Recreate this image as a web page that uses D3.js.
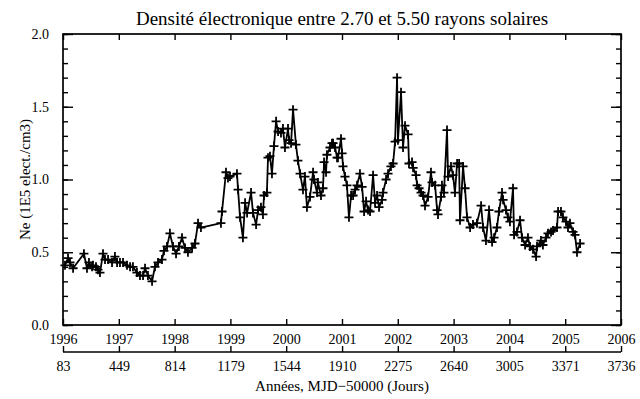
<!DOCTYPE html>
<html>
<head>
<meta charset="utf-8">
<script src="https://cdn.jsdelivr.net/npm/d3@7"></script>
<style>
  html, body { margin: 0; padding: 0; background: #fff; }
  svg { display: block; }
  text { font-family: "Liberation Serif", "Times New Roman", serif; fill: #000; }
</style>
</head>
<body>
<svg id="chart" width="640" height="399"></svg>
<script>
// Electron density (1E5 elect./cm3) vs. day number (MJD - 50000)
const days = [
  96,116,129,149,220,240,253,273,279,299,312,325,345,358,378,404,423,437,456,476,
  502,522,541,567,587,607,620,639,666,685,705,731,744,764,783,803,823,842,862,882,
  901,928,947,967,986,1117,1124,1150,1163,1176,1222,1229,1242,1261,1275,1288,1314,1327,1347,1360,
  1379,1392,1399,1418,1425,1438,1451,1464,1478,1491,1510,1523,1536,1556,1563,1576,1589,1608,1621,1635,
  1654,1667,1680,1700,1720,1726,1746,1752,1772,1785,1792,1805,1811,1831,1844,1851,1864,1877,1883,1903,
  1910,1916,1929,1942,1955,1969,1982,1995,2008,2027,2041,2054,2067,2080,2093,2113,2126,2139,2152,2172,
  2178,2198,2211,2230,2244,2257,2270,2276,2296,2309,2322,2342,2348,2368,2375,2394,2401,2414,2427,2440,
  2453,2473,2492,2499,2519,2532,2538,2558,2564,2577,2597,2604,2623,2636,2649,2663,2676,2682,2702,2715,
  2728,2748,2767,2793,2820,2833,2852,2872,2892,2905,2924,2937,2957,2964,2983,2996,3009,3029,3036,3055,
  3075,3088,3108,3127,3140,3160,3180,3186,3212,3225,3245,3258,3278,3291,3317,3324,3343,3356,3376,3389,
  3402,3422,3435,3448,3468
];
const ne = [
  0.41,0.46,0.43,0.39,0.49,0.39,0.43,0.40,0.41,0.40,0.38,0.36,0.49,0.45,0.45,0.43,0.47,0.43,0.43,0.43,
  0.41,0.40,0.40,0.36,0.34,0.34,0.39,0.34,0.30,0.40,0.43,0.45,0.51,0.54,0.63,0.54,0.49,0.54,0.60,0.53,
  0.50,0.53,0.56,0.70,0.67,0.70,0.78,1.05,1.01,1.02,1.04,0.93,0.74,0.60,0.84,0.77,0.91,0.77,0.69,0.79,
  0.81,0.76,0.89,0.91,1.15,1.16,1.04,1.23,1.40,1.33,1.32,1.35,1.22,1.35,1.27,1.25,1.48,1.24,1.13,1.04,
  0.93,1.02,0.81,0.88,1.05,1.00,0.91,0.98,0.89,0.94,1.12,1.05,1.17,1.22,1.25,1.25,1.22,1.15,1.15,1.28,
  1.18,1.09,1.02,0.96,0.74,0.89,0.89,0.93,0.96,1.04,0.95,0.78,0.85,0.79,0.78,1.03,0.84,0.89,0.81,0.86,
  0.91,1.00,1.04,1.09,1.11,1.26,1.70,1.27,1.60,1.22,1.37,1.31,1.11,1.12,1.08,1.03,0.96,0.94,0.91,0.89,
  0.82,0.88,1.05,0.98,0.96,0.79,0.76,0.88,0.96,0.91,1.34,1.02,1.09,1.03,0.91,1.11,1.11,0.72,1.09,0.94,
  0.74,0.67,0.69,0.70,0.82,0.67,0.58,0.79,0.57,0.60,0.67,0.78,0.91,0.86,0.79,0.74,0.71,0.94,0.62,0.64,
  0.72,0.60,0.55,0.60,0.54,0.52,0.47,0.54,0.58,0.55,0.60,0.63,0.64,0.65,0.67,0.78,0.78,0.74,0.71,0.67,
  0.70,0.64,0.62,0.50,0.56
];

// Axis ticks
const yearTicks = [1996,1997,1998,1999,2000,2001,2002,2003,2004,2005,2006];
const dayTicks  = [83,449,814,1179,1544,1910,2275,2640,3005,3371,3736];
const yTicks    = [0.0,0.5,1.0,1.5,2.0];

const title  = "Densité électronique entre 2.70 et 5.50 rayons solaires";
const yTitle = "Ne (1E5 elect./cm3)";
const xTitle = "Années, MJD\u221250000 (Jours)";

const points = days.map((d, i) => ({ d, v: ne[i] }));

const L = 63, R = 621, T = 34, B = 325;
const svg = d3.select("#chart");

const x = d3.scaleLinear().domain([83, 3736]).range([L, R]);
const xYear = d3.scaleLinear().domain([1996, 2006]).range([L, R]);
const y = d3.scaleLinear().domain([0, 2]).range([B, T]);

const tickFont = "14px";
const serif = "'Liberation Serif', serif";

// Frame
svg.append("rect")
  .attr("x", L).attr("y", T).attr("width", R - L).attr("height", B - T)
  .attr("fill", "none").attr("stroke", "#000").attr("stroke-width", 1.7);

// Left Y axis with minor ticks every 0.1
const minorY = d3.range(0, 2.0001, 0.1);
const yLeft = svg.append("g").attr("transform", `translate(${L},0)`)
  .call(d3.axisLeft(y).tickValues(minorY).tickSize(-5).tickFormat(""));
const yLeftMajor = svg.append("g").attr("transform", `translate(${L},0)`)
  .call(d3.axisLeft(y).tickValues(yTicks).tickSize(-10).tickPadding(14).tickFormat(d3.format(".1f")));
yLeftMajor.selectAll("text").style("font-size", tickFont).style("font-family", serif);

// Right Y axis (ticks only)
const yRight = svg.append("g").attr("transform", `translate(${R},0)`)
  .call(d3.axisRight(y).tickValues(minorY).tickSize(-5).tickFormat(""));
const yRightMajor = svg.append("g").attr("transform", `translate(${R},0)`)
  .call(d3.axisRight(y).tickValues(yTicks).tickSize(-10).tickFormat(""));

// Bottom year axis (ticks point inward)
const xBottom = svg.append("g").attr("transform", `translate(0,${B})`)
  .call(d3.axisBottom(xYear).tickValues(yearTicks).tickSize(-6).tickPadding(9).tickFormat(d3.format("d")));
xBottom.selectAll("text").style("font-size", tickFont).style("font-family", serif);

// Top year axis (ticks only)
const xTop = svg.append("g").attr("transform", `translate(0,${T})`)
  .call(d3.axisTop(xYear).tickValues(yearTicks).tickSize(-6).tickFormat(""));

[yLeft, yLeftMajor, yRight, yRightMajor, xBottom, xTop].forEach(g => {
  g.select(".domain").remove();
  g.selectAll(".tick line").attr("stroke-width", 1.4);
});

// Secondary day axis below
const dayAxis = svg.append("g").attr("transform", `translate(0,352)`)
  .call(d3.axisBottom(x).tickValues(dayTicks).tickSize(-6).tickPadding(9).tickFormat(d3.format("d")));
dayAxis.select(".domain").attr("d", `M${L},0H${R}`).attr("stroke-width", 1.7);
dayAxis.selectAll(".tick line").attr("stroke-width", 1.4);
dayAxis.selectAll("text").style("font-size", tickFont).style("font-family", serif);

// Titles
svg.append("text")
  .attr("x", (L + R) / 2).attr("y", 25)
  .attr("text-anchor", "middle").style("font-size", "19px")
  .text(title);

svg.append("text")
  .attr("transform", `translate(30,${(T + B) / 2}) rotate(-90)`)
  .attr("text-anchor", "middle").style("font-size", "15px")
  .text(yTitle);

svg.append("text")
  .attr("x", (L + R) / 2).attr("y", 391)
  .attr("text-anchor", "middle").style("font-size", "15px")
  .text(xTitle);

// Series line
const line = d3.line().x(p => x(p.d)).y(p => y(p.v));
svg.append("path")
  .datum(points)
  .attr("d", line)
  .attr("fill", "none").attr("stroke", "#000").attr("stroke-width", 1.8)
  .attr("stroke-linejoin", "round");

// Plus markers
const m = 4.5;
svg.append("g").selectAll("path")
  .data(points)
  .join("path")
  .attr("d", p => {
    const cx = x(p.d), cy = y(p.v);
    return `M${cx - m},${cy}H${cx + m}M${cx},${cy - m}V${cy + m}`;
  })
  .attr("stroke", "#000").attr("stroke-width", 1.8).attr("fill", "none");
</script>
</body>
</html>
